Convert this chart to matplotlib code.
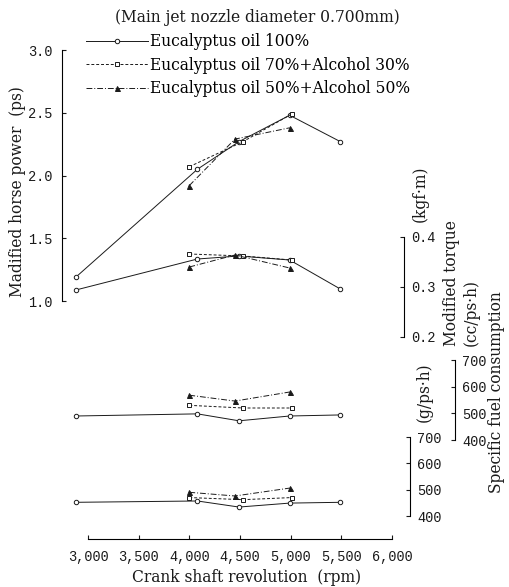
import matplotlib
matplotlib.use("Agg")
import matplotlib.pyplot as plt

# ---------------- data ----------------
rpm_ticks = [3000, 3500, 4000, 4500, 5000, 5500, 6000]
rpm_labels = ["3,000", "3,500", "4,000", "4,500", "5,000", "5,500", "6,000"]

series_labels = ["Eucalyptus oil 100%",
                 "Eucalyptus oil 70%+Alcohol 30%",
                 "Eucalyptus oil 50%+Alcohol 50%"]

rpm_oil100 = [2880, 4080, 4490, 4990, 5490]
rpm_oil70 = [4000, 4530, 5010]
rpm_oil50 = [4000, 4450, 4990]

hp_oil100 = [1.19, 2.05, 2.27, 2.48, 2.27]
hp_oil70 = [2.07, 2.27, 2.49]
hp_oil50 = [1.92, 2.29, 2.38]

torque_oil100 = [0.294, 0.356, 0.362, 0.354, 0.296]
torque_oil70 = [0.366, 0.362, 0.354]
torque_oil50 = [0.340, 0.364, 0.338]

sfc_cc_oil100 = [490, 498, 472, 490, 494]
sfc_cc_oil70 = [530, 520, 520]
sfc_cc_oil50 = [568, 546, 580]

sfc_g_oil100 = [452, 457, 434, 449, 452]
sfc_g_oil70 = [470, 462, 470]
sfc_g_oil50 = [490, 476, 506]

hp_ticks = [1.0, 1.5, 2.0, 2.5, 3.0]
torque_ticks = [0.2, 0.3, 0.4]
sfc_ticks = [400, 500, 600, 700]

# ---------------- layout (pixels) ----------------
W, H = 510, 587
AX_L, AX_R, AX_T, AX_B = 62, 404, 50, 539


def lims(v1, p1, v2, p2, plo, phi):
    k = (v2 - v1) / (p2 - p1)
    return v1 + (plo - p1) * k, v1 + (phi - p1) * k


plt.rcParams["font.family"] = ["Liberation Mono", "DejaVu Sans"]
SERIF = ["DejaVu Serif", "DejaVu Sans"]
INK = "#1a1a1a"
FS = 11.2
TFS = 9.8

fig = plt.figure(figsize=(W / 100, H / 100), dpi=100)
ax = fig.add_axes([AX_L / W, 1 - AX_B / H, (AX_R - AX_L) / W, (AX_B - AX_T) / H])
ax.patch.set_visible(False)

ax.set_xlim(*lims(3000, 88, 6000, 392, AX_L, AX_R))
ax.set_ylim(*lims(1.0, 301, 3.0, 50, AX_B, AX_T))

ax_t = ax.twinx()
ax_t.set_ylim(*lims(0.2, 337, 0.4, 237, AX_B, AX_T))
ax_g = ax.twinx()
ax_g.set_ylim(*lims(400, 516, 700, 437, AX_B, AX_T))
ax_c = ax.twinx()
ax_c.set_ylim(*lims(400, 440, 700, 360, AX_B, AX_T))

styles = [
    dict(ls="-", marker="o", mfc="white", ms=3.2),
    dict(ls=(0, (3, 2)), marker="s", mfc="white", ms=3.0),
    dict(ls=(0, (6, 2, 1, 2)), marker="^", mfc=INK, ms=3.6),
]
xs = [rpm_oil100, rpm_oil70, rpm_oil50]
panels = [
    (ax, [hp_oil100, hp_oil70, hp_oil50]),
    (ax_t, [torque_oil100, torque_oil70, torque_oil50]),
    (ax_c, [sfc_cc_oil100, sfc_cc_oil70, sfc_cc_oil50]),
    (ax_g, [sfc_g_oil100, sfc_g_oil70, sfc_g_oil50]),
]
handles = []
for a, ys in panels:
    for i, (x, y) in enumerate(zip(xs, ys)):
        ln, = a.plot(x, y, color=INK, lw=0.7, mec=INK, mew=0.7,
                     clip_on=False, label=series_labels[i], **styles[i])
        if a is ax:
            handles.append(ln)

# spines
for s in ["top", "right"]:
    ax.spines[s].set_visible(False)
ax.spines["left"].set_bounds(1.0, 3.0)
ax.spines["bottom"].set_bounds(3000, 6000)
ax.set_xticks(rpm_ticks)
ax.set_xticklabels(rpm_labels)
ax.set_yticks(hp_ticks)
ax.set_yticklabels([f"{v:.1f}" for v in hp_ticks])
ax.tick_params(direction="in", length=3, width=0.8, labelsize=TFS, colors=INK)
ax.tick_params(axis="x", pad=8)
ax.tick_params(axis="y", pad=7)

right_axes = [
    (ax_t, (0.2, 0.4), torque_ticks, [f"{v:.1f}" for v in torque_ticks], AX_R),
    (ax_g, (400, 700), sfc_ticks, [str(v) for v in sfc_ticks], 410),
    (ax_c, (400, 700), sfc_ticks, [str(v) for v in sfc_ticks], 455),
]
for a, bnd, tks, tls, xpx in right_axes:
    for s in ["top", "left", "bottom"]:
        a.spines[s].set_visible(False)
    a.spines["right"].set_position(("axes", (xpx - AX_L) / (AX_R - AX_L)))
    a.spines["right"].set_bounds(*bnd)
    a.spines["right"].set_linewidth(0.8)
    a.set_yticks(tks)
    a.set_yticklabels(tls)
    a.tick_params(direction="in", length=3, width=0.8, labelsize=TFS, pad=5, colors=INK)

for sp in ax.spines.values():
    sp.set_linewidth(0.8)

# texts
def ftext(xp, yp, s, rot=0, **kw):
    fig.text(xp / W, 1 - yp / H, s, rotation=rot, ha="center", va="center",
             family=SERIF, fontsize=FS, color=INK, **kw)

ftext(257, 17, "(Main jet nozzle diameter 0.700mm)")
ftext(18, 192, "Madified horse power  (ps)", rot=90)
ftext(247, 578, "Crank shaft revolution  (rpm)")
ftext(420, 194, "(kgf·m)", rot=90)
ftext(452, 283, "Modified torque", rot=90)
ftext(424, 392, "(g/ps·h)", rot=90)
ftext(471, 312, "(cc/ps·h)", rot=90)
ftext(497, 392, "Specific fuel consumption", rot=90)

fig.legend(handles, series_labels, loc="upper left",
           bbox_to_anchor=(86 / W, 1 - 33 / H), bbox_transform=fig.transFigure,
           frameon=False, borderpad=0, borderaxespad=0, handlelength=4.0,
           handletextpad=0.1, labelspacing=0.42,
           prop=dict(family=SERIF, size=FS))

fig.savefig("out.png", dpi=100)
